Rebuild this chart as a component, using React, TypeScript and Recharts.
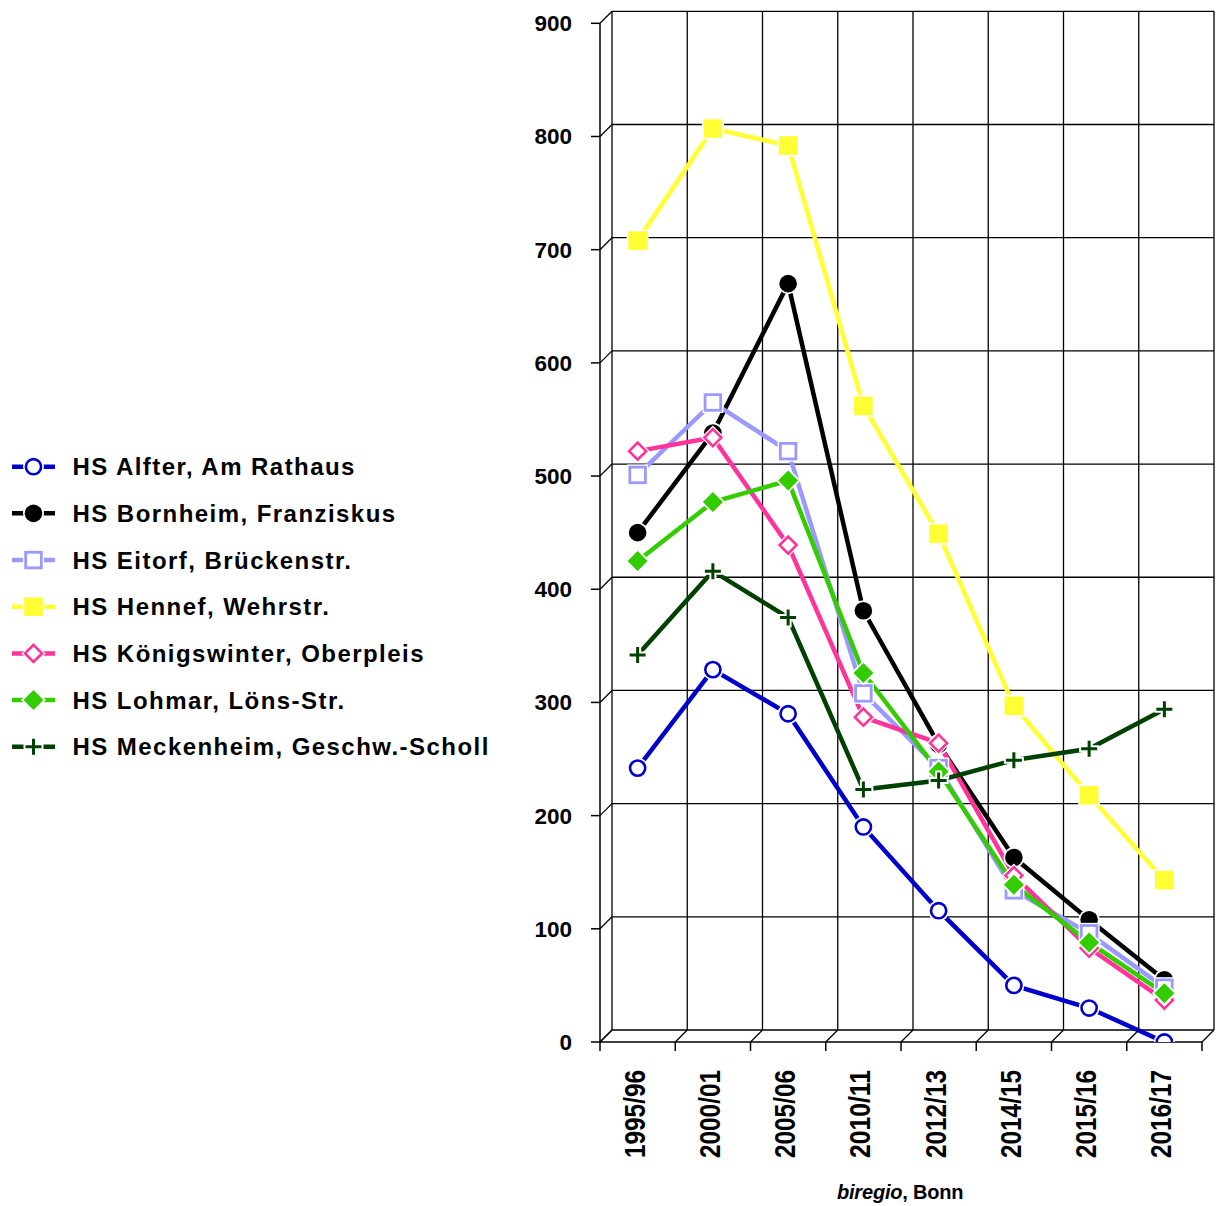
import React from 'react';
import { LineChart, Line, XAxis, YAxis, CartesianGrid, Legend } from 'recharts';

const seasons = ['1995/96', '2000/01', '2005/06', '2010/11', '2012/13', '2014/15', '2015/16', '2016/17'];

const alfter = [242, 329, 290, 190, 116, 50, 30, 0];
const bornheim = [450, 538, 670, 381, 263, 163, 108, 55];
const eitorf = [501, 565, 522, 308, 242, 134, 96, 48];
const hennef = [708, 807, 792, 562, 449, 297, 218, 143];
const koenigswinter = [522, 534, 439, 287, 264, 147, 83, 37];
const lohmar = [425, 477, 496, 326, 239, 139, 88, 43];
const meckenheim = [342, 416, 375, 223, 231, 249, 259, 294];

const seriesKeys = ['alfter', 'bornheim', 'eitorf', 'hennef', 'koenigswinter', 'lohmar', 'meckenheim'];
const seriesValues = [alfter, bornheim, eitorf, hennef, koenigswinter, lohmar, meckenheim];
const seriesNames = [
  'HS Alfter, Am Rathaus',
  'HS Bornheim, Franziskus',
  'HS Eitorf, Brückenstr.',
  'HS Hennef, Wehrstr.',
  'HS Königswinter, Oberpleis',
  'HS Lohmar, Löns-Str.',
  'HS Meckenheim, Geschw.-Scholl',
];
const seriesColors = ['#0000CC', '#000000', '#9999FF', '#FFFF33', '#FF3399', '#33CC00', '#004000'];
const seriesMarkers = ['circleOpen', 'circle', 'squareOpen', 'square', 'diamondOpen', 'diamond', 'plus'];

const yTicks = [0, 100, 200, 300, 400, 500, 600, 700, 800, 900];
const wallTicks = [0, 1, 2, 3, 4, 5, 6, 7, 8];

const W = 1216;
const H = 1206;
const FRONT = { left: 600, right: 1202, top: 23.3, bottom: 1042 };
const DEPTH = 12;
const BAND = (FRONT.right - FRONT.left) / seasons.length;
const AXIS_W = 40; // y axis width, taken off the left margin
const AXIS_H = 30; // x axis height, taken off the bottom margin
const FONT = 'Arial, "Liberation Sans", sans-serif';

const rows = seasons.map((season, i) => {
  const row: any = { season };
  seriesKeys.forEach((k, s) => (row[k] = seriesValues[s][i]));
  return row;
});
const wallRows = [
  { x: 0, y: 0 },
  { x: seasons.length, y: 900 },
];

function Marker({ kind, color, cx, cy }: { kind: string; color: string; cx: number; cy: number }) {
  if (cx == null || cy == null) return null;
  switch (kind) {
    case 'circleOpen':
      return (
        <g>
          <circle cx={cx} cy={cy} r={10.5} fill="#fff" />
          <circle cx={cx} cy={cy} r={7.6} fill="#fff" stroke={color} strokeWidth={2.6} />
        </g>
      );
    case 'circle':
      return (
        <g>
          <circle cx={cx} cy={cy} r={10.5} fill="#fff" />
          <circle cx={cx} cy={cy} r={8.8} fill={color} />
        </g>
      );
    case 'squareOpen':
      return (
        <g>
          <rect x={cx - 10.5} y={cy - 10.5} width={21} height={21} fill="#fff" />
          <rect x={cx - 7.8} y={cy - 7.8} width={15.6} height={15.6} fill="#fff" stroke={color} strokeWidth={2.8} />
        </g>
      );
    case 'square':
      return (
        <g>
          <rect x={cx - 11} y={cy - 11} width={22} height={22} fill="#fff" />
          <rect x={cx - 9.3} y={cy - 9.3} width={18.6} height={18.6} fill={color} />
        </g>
      );
    case 'diamondOpen':
      return (
        <g>
          <path d={`M${cx},${cy - 12}L${cx + 12},${cy}L${cx},${cy + 12}L${cx - 12},${cy}Z`} fill="#fff" />
          <path
            d={`M${cx},${cy - 8.5}L${cx + 8.5},${cy}L${cx},${cy + 8.5}L${cx - 8.5},${cy}Z`}
            fill="#fff"
            stroke={color}
            strokeWidth={2.6}
          />
        </g>
      );
    case 'diamond':
      return (
        <g>
          <path d={`M${cx},${cy - 12.5}L${cx + 12.5},${cy}L${cx},${cy + 12.5}L${cx - 12.5},${cy}Z`} fill="#fff" />
          <path d={`M${cx},${cy - 10}L${cx + 10},${cy}L${cx},${cy + 10}L${cx - 10},${cy}Z`} fill={color} />
        </g>
      );
    default:
      return (
        <g>
          <path d={`M${cx - 10},${cy}H${cx + 10}M${cx},${cy - 10}V${cy + 10}`} stroke="#fff" strokeWidth={7} />
          <path d={`M${cx - 8},${cy}H${cx + 8}M${cx},${cy - 8}V${cy + 8}`} stroke={color} strokeWidth={3} />
        </g>
      );
  }
}

function YTick(props: any) {
  const { y, payload } = props;
  return (
    <g>
      <line x1={FRONT.left - 9} y1={y} x2={FRONT.left} y2={y} stroke="#000" strokeWidth={1.5} />
      <line x1={FRONT.left} y1={y} x2={FRONT.left + DEPTH} y2={y - DEPTH} stroke="#000" strokeWidth={1.3} />
      <text x={572} y={y + 8} textAnchor="end" fontFamily={FONT} fontWeight="bold" fontSize={22.5} fill="#000">
        {payload.value}
      </text>
    </g>
  );
}

function XTick(props: any) {
  const { x, payload, index } = props;
  const marks = [x - BAND / 2];
  if (index === seasons.length - 1) marks.push(x + BAND / 2);
  const bx = x + 7;
  const ty = 1070;
  return (
    <g>
      {marks.map((mx) => (
        <g key={mx}>
          <line x1={mx} y1={FRONT.bottom} x2={mx} y2={FRONT.bottom + 9} stroke="#000" strokeWidth={1.5} />
          <line x1={mx} y1={FRONT.bottom} x2={mx + DEPTH} y2={FRONT.bottom - DEPTH} stroke="#000" strokeWidth={1.3} />
        </g>
      ))}
      <text
        x={bx}
        y={ty}
        transform={`rotate(-90 ${bx} ${ty})`}
        textAnchor="end"
        fontFamily={FONT}
        fontWeight="bold"
        fontSize={29}
        textLength={88}
        lengthAdjust="spacingAndGlyphs"
        fill="#000"
      >
        {payload.value}
      </text>
    </g>
  );
}

function LegendBox() {
  const top = 443;
  const first = 466.7 - top;
  const step = 46.67;
  return (
    <svg width={520} height={330} style={{ display: 'block' }}>
      {seriesNames.map((name, i) => {
        const cy = first + i * step;
        return (
          <g key={name}>
            <line x1={12} y1={cy} x2={55} y2={cy} stroke={seriesColors[i]} strokeWidth={4.5} />
            <Marker kind={seriesMarkers[i]} color={seriesColors[i]} cx={33.5} cy={cy} />
            <text x={72.5} y={cy + 8.7} fontFamily={FONT} fontWeight="bold" fontSize={24} letterSpacing={1.45} fill="#000">
              {name}
            </text>
          </g>
        );
      })}
    </svg>
  );
}

export default function App() {
  return (
    <div style={{ position: 'absolute', left: 0, top: 0, width: W, height: H, background: '#fff' }}>
      {/* back wall of the pseudo-3D plot */}
      <div style={{ position: 'absolute', left: 0, top: 0 }}>
        <LineChart
          width={W}
          height={H}
          data={wallRows}
          margin={{
            top: FRONT.top - DEPTH,
            left: FRONT.left + DEPTH,
            right: W - FRONT.right - DEPTH,
            bottom: H - FRONT.bottom + DEPTH,
          }}
        >
          <XAxis type="number" dataKey="x" domain={[0, seasons.length]} ticks={wallTicks} allowDataOverflow hide />
          <YAxis type="number" dataKey="y" domain={[0, 900]} ticks={yTicks} allowDataOverflow hide />
          <CartesianGrid stroke="#000" strokeWidth={1.3} />
        </LineChart>
      </div>

      {/* front axes and series */}
      <div style={{ position: 'absolute', left: 0, top: 0 }}>
        <LineChart
          width={W}
          height={H}
          data={rows}
          margin={{
            top: FRONT.top,
            left: FRONT.left - AXIS_W,
            right: W - FRONT.right,
            bottom: H - FRONT.bottom - AXIS_H,
          }}
        >
          <XAxis
            dataKey="season"
            height={AXIS_H}
            interval={0}
            padding={{ left: BAND / 2, right: BAND / 2 }}
            axisLine={{ stroke: '#000', strokeWidth: 1.5 }}
            tickLine={false}
            tick={<XTick />}
          />
          <YAxis
            type="number"
            domain={[0, 900]}
            ticks={yTicks}
            allowDataOverflow
            width={AXIS_W}
            axisLine={{ stroke: '#000', strokeWidth: 1.5 }}
            tickLine={false}
            tick={<YTick />}
          />
          <Legend
            layout="horizontal"
            verticalAlign="middle"
            align="center"
            wrapperStyle={{ left: 0, top: 443, width: 520, height: 330 }}
            content={() => <LegendBox />}
          />
          {seriesKeys.map((k, i) => (
            <Line
              key={k}
              dataKey={k}
              name={seriesNames[i]}
              stroke={seriesColors[i]}
              strokeWidth={4.5}
              isAnimationActive={false}
              dot={(p: any) => (
                <Marker key={`${k}-${p.index}`} kind={seriesMarkers[i]} color={seriesColors[i]} cx={p.cx} cy={p.cy} />
              )}
              activeDot={false}
            />
          ))}
        </LineChart>
      </div>

      <svg width={W} height={H} style={{ position: 'absolute', left: 0, top: 0, pointerEvents: 'none' }}>
        <text x={837} y={1199} fontFamily={FONT} fontWeight="bold" fontSize={20} letterSpacing={-0.2} fill="#000">
          <tspan fontStyle="italic">biregio</tspan>
          <tspan>, Bonn</tspan>
        </text>
      </svg>
    </div>
  );
}
